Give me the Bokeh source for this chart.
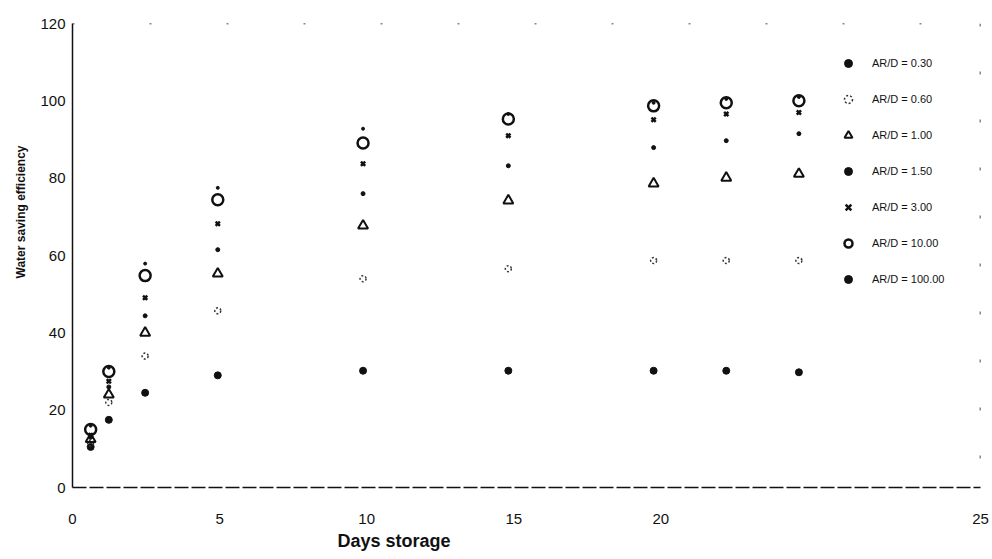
from bokeh.plotting import figure
from bokeh.models import FixedTicker, Legend, LegendItem, Span, Title
from bokeh.embed import file_html
from bokeh.resources import INLINE

# ---- data ----
days = [0.5, 1, 2, 4, 8, 12, 16, 18, 20]
wse_030 = [10.5, 17.5, 24.5, 29.0, 30.2, 30.2, 30.2, 30.2, 29.8]
wse_060 = [11.5, 22.0, 34.0, 45.7, 54.0, 56.6, 58.7, 58.7, 58.7]
wse_100 = [12.5, 24.0, 40.0, 55.3, 67.7, 74.2, 78.6, 80.1, 81.1]
wse_150 = [13.0, 26.0, 44.4, 61.5, 76.0, 83.2, 87.9, 89.7, 91.5]
wse_300 = [13.5, 27.5, 49.1, 68.2, 83.7, 91.0, 95.1, 96.6, 97.0]
wse_1000 = [15.0, 30.0, 54.8, 74.4, 89.1, 95.3, 98.7, 99.5, 100.0]
wse_10000 = [16.0, 31.0, 57.9, 77.5, 92.8, 96.6, 99.5, 100.5, 101.0]

series_labels = ["AR/D = 0.30", "AR/D = 0.60", "AR/D = 1.00", "AR/D = 1.50",
                 "AR/D = 3.00", "AR/D = 10.00", "AR/D = 100.00"]

# tick positions / labels as printed on the scanned axis
x_tick_pos = [0, 4.05, 8.1, 12.15, 16.2, 25]
x_tick_labels = ["0", "5", "10", "15", "20", "25"]
y_ticks = [0, 20, 40, 60, 80, 100, 120]

INK = "#111111"
FONT = "Liberation Sans"

p = figure(frame_width=908, frame_height=464, x_range=(0, 25), y_range=(0, 120),
           output_backend="svg", toolbar_location=None,
           min_border_left=72, min_border_right=10, min_border_top=23, min_border_bottom=66)
p.outline_line_color = None
p.xgrid.grid_line_color = None
p.ygrid.grid_line_color = None
p.background_fill_color = "white"
p.border_fill_color = "white"

# axes
p.xaxis.ticker = FixedTicker(ticks=x_tick_pos)
p.xaxis.major_label_overrides = {t: l for t, l in zip(x_tick_pos, x_tick_labels)}
p.yaxis.ticker = FixedTicker(ticks=y_ticks)
for ax in (p.xaxis, p.yaxis):
    ax.major_tick_line_color = None
    ax.minor_tick_line_color = None
    ax.major_tick_out = 0
    ax.major_tick_in = 0
    ax.major_label_text_font = FONT
    ax.major_label_text_font_size = "15px"
    ax.major_label_text_color = INK
    ax.axis_line_color = INK
p.yaxis.axis_line_width = 1.5
p.yaxis.major_label_standoff = 7
p.xaxis.axis_line_width = 1.5
p.xaxis.axis_line_dash = "14 3"
p.xaxis.major_label_standoff = 26

# faint dotted frame top / right (as in the scan)
p.add_layout(Span(location=120, dimension="width", line_color=INK, line_width=1.5, line_dash="2 75"))
p.add_layout(Span(location=25, dimension="height", line_color=INK, line_width=1.5, line_dash="3 45"))

# markers
r1 = p.scatter(days, wse_030, marker="circle", size=7, fill_color=INK, line_color=INK)
r2 = p.scatter(days, wse_060, marker="circle", size=6, fill_color=None, line_color="#333333",
               line_width=1.5, line_dash="2 2")
r3 = p.scatter(days, wse_100, marker="triangle", size=10, fill_color=None, line_color=INK, line_width=2)
r4 = p.scatter(days, wse_150, marker="circle", size=4, fill_color=INK, line_color=INK)
r5 = p.scatter(days, wse_300, marker="x", size=6, line_color=INK, line_width=2.5)
r6 = p.scatter(days, wse_1000, marker="circle", size=11, fill_color=None, line_color=INK, line_width=2.5)
r7 = p.scatter(days, wse_10000, marker="circle", size=3, fill_color=INK, line_color=INK)

renderers = [r1, r2, r3, r4, r5, r6, r7]
legend = Legend(items=[LegendItem(label=l, renderers=[r]) for l, r in zip(series_labels, renderers)],
                location=(766, 198), orientation="vertical",
                glyph_height=20, glyph_width=20, label_height=20, spacing=16,
                label_standoff=14, padding=0, margin=0,
                border_line_color=None, background_fill_alpha=0,
                label_text_font=FONT, label_text_font_size="11px", label_text_color=INK)
p.add_layout(legend)

# axis titles placed where the scan has them
p.add_layout(Title(text="Days storage", align="left", offset=265, standoff=4,
                   text_font=FONT, text_font_size="18px", text_font_style="bold",
                   text_color=INK), "below")
p.add_layout(Title(text="Water saving efficiency", align="right", offset=122, standoff=19,
                   text_font=FONT, text_font_size="12px", text_font_style="bold",
                   text_color=INK), "left")

open("out.html", "w").write(file_html(p, INLINE))
